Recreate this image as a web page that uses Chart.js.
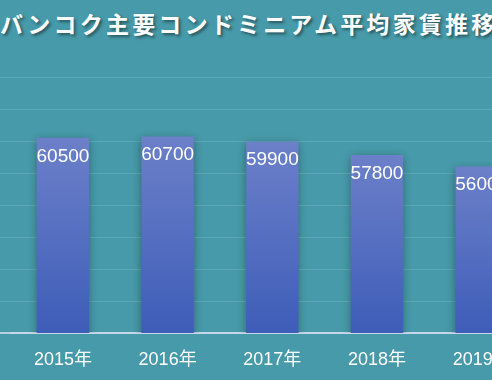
<!DOCTYPE html>
<html>
<head>
<meta charset="utf-8">
<script src="https://cdn.jsdelivr.net/npm/chart.js@4.4.0/dist/chart.umd.min.js"></script>
<style>
  html, body { margin: 0; padding: 0; }
  body {
    width: 492px; height: 380px; overflow: hidden; position: relative;
    background: #479aa9;
  }
  #title {
    position: absolute; left: 0px; top: 12px; margin: 0;
    white-space: nowrap;
    font-family: "Noto Sans CJK JP", sans-serif;
    font-weight: bold; font-size: 23px; line-height: 22px;
    letter-spacing: 3.2px; color: #fff;
    text-shadow: 2px 2px 3px rgba(0, 0, 0, 0.45);
  }
  #rentChart { position: absolute; left: -100px; top: 0; }
</style>
</head>
<body>
<h1 id="title">バンコク主要コンドミニアム平均家賃推移</h1>
<canvas id="rentChart" width="700" height="380"></canvas>
<script>
// Data
const years = ['2015年', '2016年', '2017年', '2018年', '2019年'];
const avgRent = [60500, 60700, 59900, 57800, 56000];
const yMin = 30000;
const yMax = 70000;
const yStep = 5000;

const baseLineColor = 'rgba(205, 215, 235, 0.85)';

// Soft shadow under the bars
const barShadow = {
    id: 'barShadow',
    beforeDatasetsDraw(chart) {
        const ctx = chart.ctx;
        ctx.save();
        ctx.shadowColor = 'rgba(0, 0, 0, 0.35)';
        ctx.shadowBlur = 8;
        ctx.shadowOffsetX = 0;
        ctx.shadowOffsetY = 2;
    },
    afterDatasetsDraw(chart) {
        chart.ctx.restore();
    }
};

// Value labels inside the top of each bar
const valueLabels = {
    id: 'valueLabels',
    afterDatasetsDraw(chart) {
        const ctx = chart.ctx;
        const meta = chart.getDatasetMeta(0);
        ctx.save();
        ctx.fillStyle = '#ffffff';
        ctx.font = '19px "Liberation Sans", Arial, sans-serif';
        ctx.textAlign = 'center';
        ctx.textBaseline = 'middle';
        meta.data.forEach((bar, i) => {
            ctx.fillText(String(avgRent[i]), bar.x, bar.y + 18.5);
        });
        ctx.restore();
    }
};

function barGradient(context) {
    const chart = context.chart;
    const area = chart.chartArea;
    if (!area || context.raw == null) return '#4f6cc0';
    const top = chart.scales.y.getPixelForValue(context.raw);
    const g = chart.ctx.createLinearGradient(0, top, 0, area.bottom);
    g.addColorStop(0, '#6c80c9');
    g.addColorStop(1, '#3e5db8');
    return g;
}

const ctx = document.getElementById('rentChart').getContext('2d');
new Chart(ctx, {
    type: 'bar',
    data: {
        labels: years,
        datasets: [{
            label: '平均家賃',
            data: avgRent,
            backgroundColor: barGradient,
            borderWidth: 0,
            barPercentage: 0.5,
            categoryPercentage: 1.0
        }]
    },
    options: {
        responsive: false,
        animation: false,
        layout: { padding: { left: 0, right: 66, top: 77, bottom: 0 } },
        plugins: {
            legend: { display: false },
            title: { display: false },
            tooltip: { enabled: false }
        },
        scales: {
            x: {
                grid: { display: false, drawTicks: false },
                border: { display: true, color: baseLineColor, width: 2 },
                ticks: {
                    color: '#ffffff',
                    padding: 16,
                    font: { size: 18, family: '"Liberation Sans", Arial, "Noto Sans CJK JP", sans-serif' }
                },
                afterFit(scale) { scale.height = 47; }
            },
            y: {
                min: yMin,
                max: yMax,
                ticks: { stepSize: yStep, display: false },
                grid: {
                    color: (c) => (c.tick && c.tick.value === yMin) ? baseLineColor : 'rgba(255, 255, 255, 0.13)',
                    lineWidth: (c) => (c.tick && c.tick.value === yMin) ? 2 : 1,
                    tickLength: 15
                },
                border: { display: false },
                afterFit(scale) { scale.width = 110.6; }
            }
        }
    },
    plugins: [barShadow, valueLabels]
});
</script>
</body>
</html>
